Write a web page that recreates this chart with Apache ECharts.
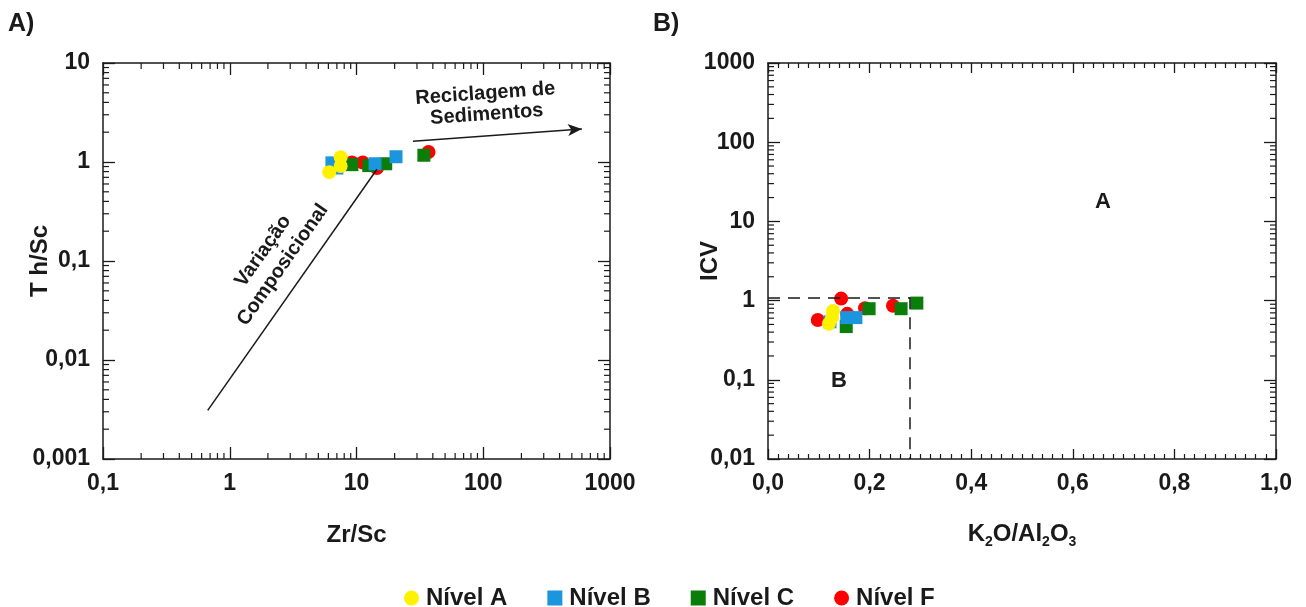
<!DOCTYPE html>
<html>
<head>
<meta charset="utf-8">
<script src="https://cdn.jsdelivr.net/npm/echarts@6/dist/echarts.min.js"></script>
<style>
  html, body { margin: 0; padding: 0; background: #fff; }
  #chart { width: 1306px; height: 607px; }
</style>
</head>
<body>
<div id="chart"></div>
<script>
// --- dados ---
// A) Th/Sc vs Zr/Sc   [Zr/Sc, Th/Sc]
const nivelA_zr = [[6.1, 0.79], [7.5, 1.12], [7.5, 0.91]];
const nivelB_zr = [[6.4, 0.98], [7.0, 0.87], [14.0, 0.96], [20.5, 1.13]];
const nivelC_zr = [[9.2, 0.94], [12.5, 0.92], [17.0, 0.96], [34.0, 1.17]];
const nivelF_zr = [[9.2, 0.99], [11.2, 0.99], [14.5, 0.87], [37.0, 1.26]];

// B) ICV vs K2O/Al2O3   [K2O/Al2O3, ICV]
const nivelA_icv = [[0.128, 0.74], [0.120, 0.51], [0.126, 0.61]];
const nivelB_icv = [[0.122, 0.54], [0.155, 0.61], [0.173, 0.61]];
const nivelC_icv = [[0.199, 0.79], [0.154, 0.47], [0.262, 0.79], [0.293, 0.93]];
const nivelF_icv = [[0.144, 1.06], [0.098, 0.57], [0.191, 0.80], [0.246, 0.86], [0.156, 0.68]];

// linhas de referência
const setaComposicional = [[0.67, 0.0031], [14.5, 0.845]];
const setaReciclagem = [[27.9, 1.62], [600, 2.15]];
const limiteICV = 1.1;
const limiteK2O = 0.28;

const seriesNames = ['Nível A', 'Nível B', 'Nível C', 'Nível F'];
const seriesColors = { 'Nível A': '#fff200', 'Nível B': '#1b95dd', 'Nível C': '#0a7d0a', 'Nível F': '#ff0000' };
const seriesSymbols = { 'Nível A': 'circle', 'Nível B': 'rect', 'Nível C': 'rect', 'Nível F': 'circle' };

const font = 'Liberation Sans, Arial, sans-serif';
const ink = '#1a1a1a';

// marcas secundárias do eixo log (2..9 em cada década)
function logMinor(lo, hi) {
  const out = [];
  for (let k = lo; k < hi; k++) {
    for (let m = 2; m <= 9; m++) out.push(Number((m * Math.pow(10, k)).toPrecision(3)));
  }
  return out;
}

const comma = v => String(v).replace('.', ',');

function logAxis(pos, min, max, showLabel, extra) {
  return Object.assign({
    type: 'log', logBase: 10, min: min, max: max, position: pos,
    axisLine: { show: true, onZero: false, lineStyle: { color: ink, width: 1.5 } },
    axisTick: { show: true, inside: true, length: 12, lineStyle: { color: ink, width: 1.3 } },
    minorTick: { show: false },
    splitLine: { show: false },
    nameMoveOverlap: false,
    axisLabel: {
      show: showLabel, formatter: comma, showMinLabel: true, showMaxLabel: true,
      fontFamily: font, fontWeight: 'bold', fontSize: 23, color: ink, margin: 13
    }
  }, extra || {});
}

function linAxis(pos, showLabel, extra) {
  return Object.assign({
    type: 'value', min: 0, max: 1, interval: 0.2, position: pos,
    axisLine: { show: true, onZero: false, lineStyle: { color: ink, width: 1.5 } },
    axisTick: { show: true, inside: true, length: 10, lineStyle: { color: ink, width: 1.3 } },
    minorTick: { show: true, splitNumber: 10, length: 5, lineStyle: { color: ink, width: 1.2 } },
    splitLine: { show: false }, minorSplitLine: { show: false },
    nameMoveOverlap: false,
    axisLabel: {
      show: showLabel, formatter: v => v.toFixed(1).replace('.', ','),
      fontFamily: font, fontWeight: 'bold', fontSize: 23, color: ink, margin: 13
    }
  }, extra || {});
}

const nameStyle = { fontFamily: font, fontWeight: 'bold', fontSize: 24, color: ink };

// série custom só para desenhar as marcas menores dos eixos log
function minorTicks(xi, yi, xTicks, yTicks, xMin, yMin) {
  const data = [];
  xTicks.forEach(v => data.push([v, yMin, 0]));
  yTicks.forEach(v => data.push([xMin, v, 1]));
  return {
    type: 'custom', xAxisIndex: xi, yAxisIndex: yi, silent: true, clip: false, z: 1,
    renderItem: function (params, api) {
      const cs = params.coordSys;
      const p = api.coord([api.value(0), api.value(1)]);
      const L = 6;
      const style = { stroke: ink, lineWidth: 1.2 };
      if (api.value(2) === 0) {
        return { type: 'group', children: [
          { type: 'line', shape: { x1: p[0], y1: cs.y + cs.height, x2: p[0], y2: cs.y + cs.height - L }, style: style },
          { type: 'line', shape: { x1: p[0], y1: cs.y, x2: p[0], y2: cs.y + L }, style: style }
        ] };
      }
      return { type: 'group', children: [
        { type: 'line', shape: { x1: cs.x, y1: p[1], x2: cs.x + L, y2: p[1] }, style: style },
        { type: 'line', shape: { x1: cs.x + cs.width, y1: p[1], x2: cs.x + cs.width - L, y2: p[1] }, style: style }
      ] };
    },
    data: data
  };
}

function scatter(name, data, xi, yi, extra) {
  return Object.assign({
    name: name, type: 'scatter', xAxisIndex: xi, yAxisIndex: yi,
    symbol: seriesSymbols[name], symbolSize: seriesSymbols[name] === 'circle' ? 14 : 13,
    itemStyle: { color: seriesColors[name], opacity: 1 },
    data: data, z: 3
  }, extra || {});
}

const refLine = { color: ink, width: 1.5, type: 'solid' };

const chart = echarts.init(document.getElementById('chart'));
chart.setOption({
  animation: false,
  backgroundColor: '#fff',
  grid: [
    { left: 103, top: 63, width: 507, height: 396 },
    { left: 768, top: 63, width: 508, height: 396 }
  ],
  xAxis: [
    logAxis('bottom', 0.1, 1000, true, { gridIndex: 0, name: 'Zr/Sc', nameLocation: 'middle', nameGap: 64, nameTextStyle: nameStyle }),
    logAxis('top', 0.1, 1000, false, { gridIndex: 0 }),
    linAxis('bottom', true, {
      gridIndex: 1, name: '{n|K}{s|2}{n|O/Al}{s|2}{n|O}{s|3}', nameLocation: 'middle', nameGap: 60,
      nameTextStyle: Object.assign({}, nameStyle, { rich: {
        n: { fontFamily: font, fontWeight: 'bold', fontSize: 24, color: ink, lineHeight: 30, verticalAlign: 'middle' },
        s: { fontFamily: font, fontWeight: 'bold', fontSize: 14, color: ink, lineHeight: 14, verticalAlign: 'bottom' }
      } })
    }),
    linAxis('top', false, { gridIndex: 1 })
  ],
  yAxis: [
    logAxis('left', 0.001, 10, true, { gridIndex: 0, name: 'T h/Sc', nameLocation: 'middle', nameGap: 51, nameRotate: 90, nameTextStyle: nameStyle }),
    logAxis('right', 0.001, 10, false, { gridIndex: 0 }),
    logAxis('left', 0.01, 1000, true, { gridIndex: 1, name: 'ICV', nameLocation: 'middle', nameGap: 46, nameRotate: 90, nameTextStyle: nameStyle }),
    logAxis('right', 0.01, 1000, false, { gridIndex: 1 })
  ],
  legend: {
    data: seriesNames, left: 399, top: 581, itemWidth: 15, itemHeight: 15, itemGap: 40,
    textStyle: { fontFamily: font, fontWeight: 'bold', fontSize: 24, color: ink, padding: [0, 0, 0, 2] }
  },
  graphic: [
    { type: 'text', left: 8, top: 12, style: { text: 'A)', font: 'bold 25px ' + font, fill: ink } },
    { type: 'text', left: 653, top: 12, style: { text: 'B)', font: 'bold 25px ' + font, fill: ink } },
    { type: 'text', x: 273, y: 258, rotation: 55 * Math.PI / 180,
      style: { text: 'Variação\nComposicional', font: 'bold 20px ' + font, fill: ink, align: 'center', verticalAlign: 'middle', lineHeight: 24 } },
    { type: 'text', x: 486, y: 104, rotation: 4 * Math.PI / 180,
      style: { text: 'Reciclagem de\nSedimentos', font: 'bold 20px ' + font, fill: ink, align: 'center', verticalAlign: 'middle', lineHeight: 21 } },
    { type: 'text', x: 1103, y: 202, style: { text: 'A', font: 'bold 22px ' + font, fill: ink, align: 'center', verticalAlign: 'middle' } },
    { type: 'text', x: 839, y: 381, style: { text: 'B', font: 'bold 22px ' + font, fill: ink, align: 'center', verticalAlign: 'middle' } }
  ],
  series: [
    minorTicks(0, 0, logMinor(-1, 3), logMinor(-3, 1), 0.1, 0.001),
    minorTicks(2, 2, [], logMinor(-2, 3), 0, 0.01),
    scatter('Nível F', nivelF_zr, 0, 0, {
      markLine: {
        silent: true, symbol: ['none', 'none'], label: { show: false }, lineStyle: refLine,
        data: [
          [{ coord: setaComposicional[0] }, { coord: setaComposicional[1] }],
          [{ coord: setaReciclagem[0] }, { coord: setaReciclagem[1], symbol: 'arrow', symbolSize: [9, 14] }]
        ]
      }
    }),
    scatter('Nível C', nivelC_zr, 0, 0),
    scatter('Nível B', nivelB_zr, 0, 0),
    scatter('Nível A', nivelA_zr, 0, 0),
    scatter('Nível F', nivelF_icv, 2, 2, {
      markLine: {
        silent: true, symbol: ['none', 'none'], label: { show: false },
        lineStyle: { color: ink, width: 1.5, type: [12, 8] },
        data: [
          [{ coord: [0, limiteICV] }, { coord: [limiteK2O, limiteICV] }],
          [{ coord: [limiteK2O, limiteICV] }, { coord: [limiteK2O, 0.01] }]
        ]
      }
    }),
    scatter('Nível C', nivelC_icv, 2, 2),
    scatter('Nível B', nivelB_icv, 2, 2),
    scatter('Nível A', nivelA_icv, 2, 2)
  ]
});
</script>
</body>
</html>
